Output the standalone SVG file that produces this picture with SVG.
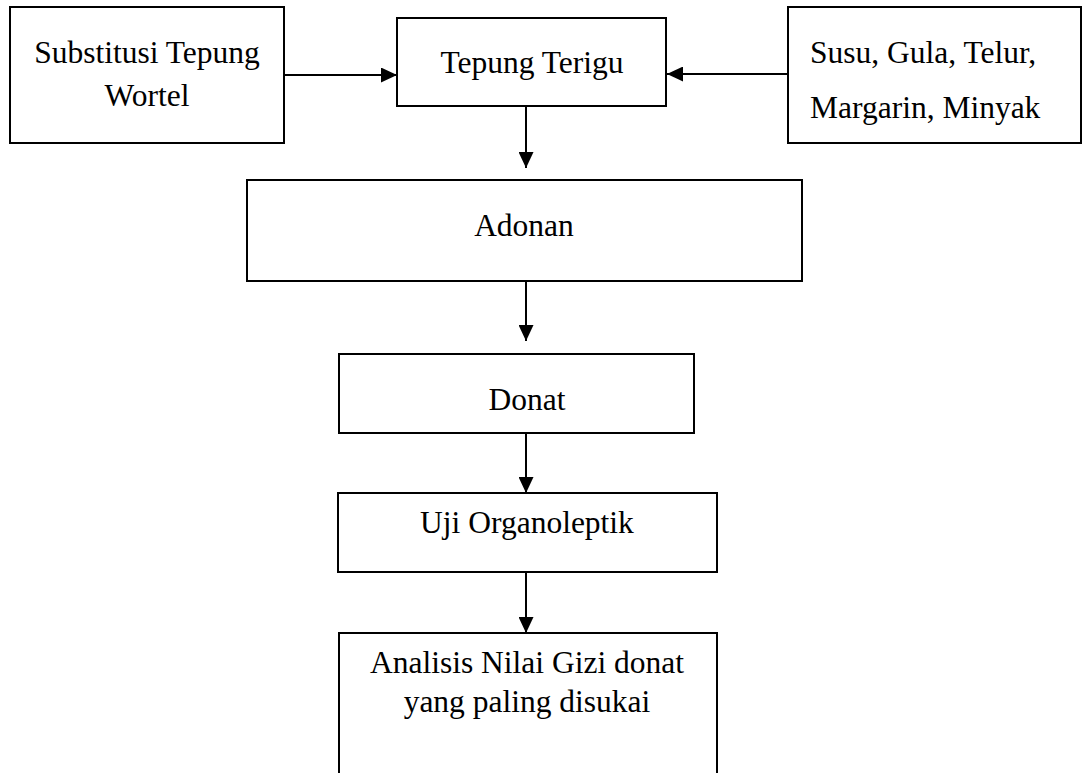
<svg xmlns="http://www.w3.org/2000/svg" width="1083" height="773" viewBox="0 0 1083 773">
<style>
.box{fill:#fff;stroke:#000;stroke-width:2}
.t{font-family:"Liberation Serif","Times New Roman",serif;font-size:31.5px;fill:#000}
.c{text-anchor:middle}
.ln{stroke:#000;stroke-width:2;fill:none}
</style>
<defs>
<marker id="ah" markerUnits="userSpaceOnUse" markerWidth="16" markerHeight="15" refX="16" refY="7.5" orient="auto">
<path d="M0,0 L16,7.5 L0,15 z" fill="#000"/>
</marker>
</defs>
<rect width="1083" height="773" fill="#fff"/>
<g id="connectors">
<line class="ln" x1="284" y1="75" x2="397" y2="75" marker-end="url(#ah)"/>
<line class="ln" x1="788" y1="74" x2="667" y2="74" marker-end="url(#ah)"/>
<line class="ln" x1="526" y1="106" x2="526" y2="168" marker-end="url(#ah)"/>
<line class="ln" x1="526" y1="281" x2="526" y2="341" marker-end="url(#ah)"/>
<line class="ln" x1="526" y1="433" x2="526" y2="493" marker-end="url(#ah)"/>
<line class="ln" x1="526" y1="572" x2="526" y2="633" marker-end="url(#ah)"/>
</g>
<g id="substitusi">
<rect class="box" x="10" y="7" width="274" height="136"/>
<text class="t c" x="147" y="63">Substitusi Tepung</text>
<text class="t c" x="147" y="106">Wortel</text>
</g>
<g id="tepung">
<rect class="box" x="397" y="18" width="269" height="88"/>
<text class="t c" x="532" y="73">Tepung Terigu</text>
</g>
<g id="bahan">
<rect class="box" x="788" y="7" width="293" height="136"/>
<text class="t" x="810" y="63">Susu, Gula, Telur,</text>
<text class="t" x="810" y="118">Margarin, Minyak</text>
</g>
<g id="adonan">
<rect class="box" x="247" y="180" width="555" height="101"/>
<text class="t c" x="524" y="236">Adonan</text>
</g>
<g id="donat">
<rect class="box" x="339" y="354" width="355" height="79"/>
<text class="t c" x="527" y="410">Donat</text>
</g>
<g id="uji">
<rect class="box" x="338" y="493" width="379" height="79"/>
<text class="t c" x="527" y="533">Uji Organoleptik</text>
</g>
<g id="analisis">
<rect class="box" x="339" y="633" width="378" height="160"/>
<text class="t c" x="527" y="673">Analisis Nilai Gizi donat</text>
<text class="t c" x="527" y="712">yang paling disukai</text>
</g>
</svg>
